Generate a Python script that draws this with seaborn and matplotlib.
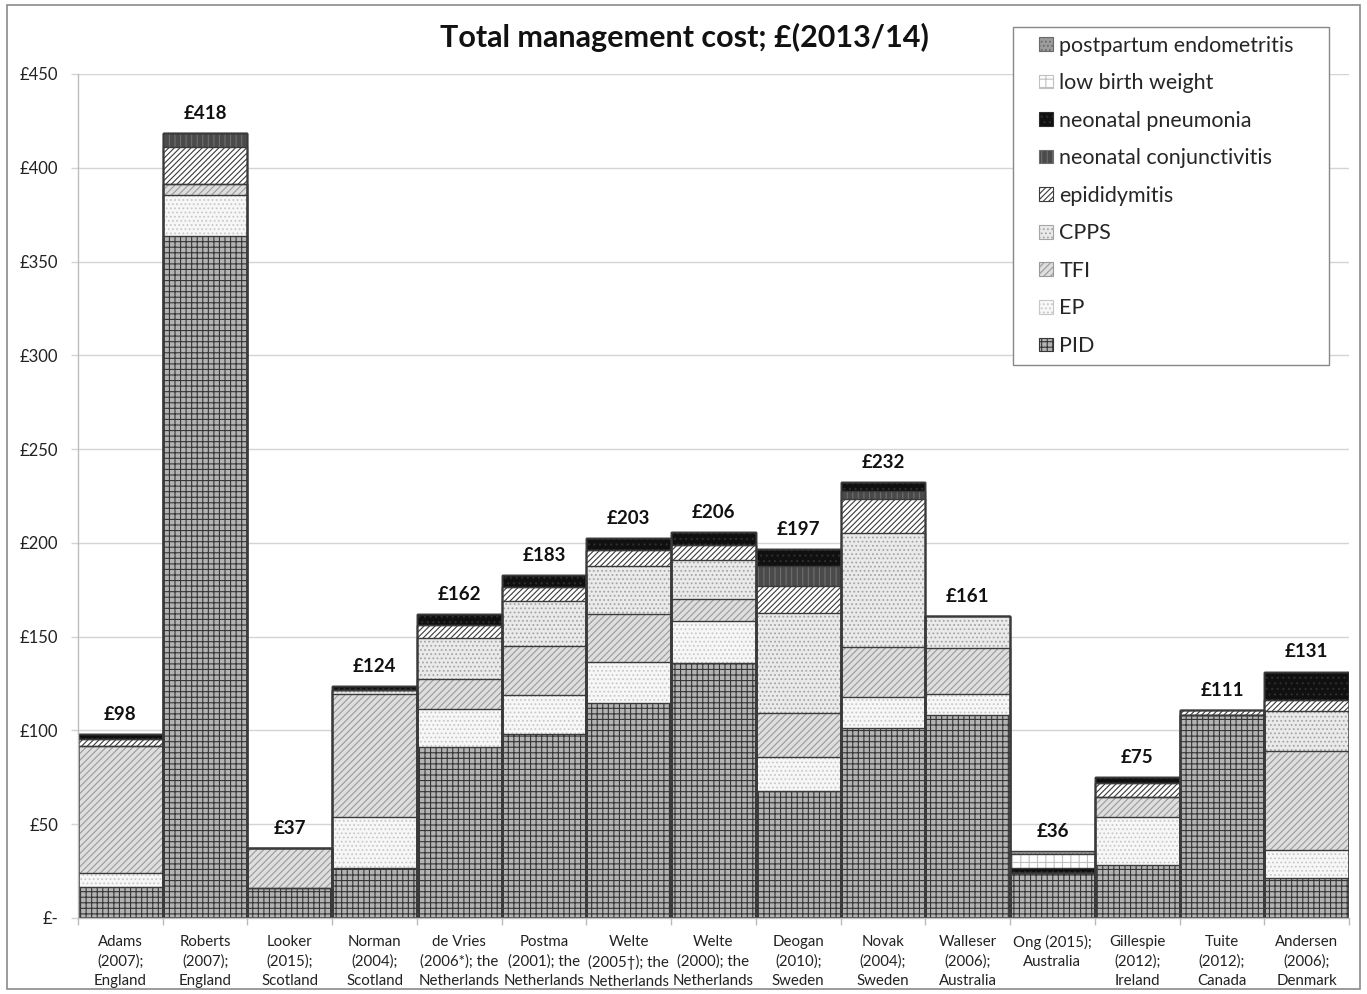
import numpy as np
import pandas as pd
import matplotlib
matplotlib.use("Agg")
import matplotlib.pyplot as plt
from matplotlib.patches import Patch, Rectangle
from matplotlib.legend_handler import HandlerPatch
import seaborn as sns

# Studies (x categories)
studies = [
    "Adams\n(2007);\nEngland", "Roberts\n(2007);\nEngland", "Looker\n(2015);\nScotland",
    "Norman\n(2004);\nScotland", "de Vries\n(2006*); the\nNetherlands",
    "Postma\n(2001); the\nNetherlands", "Welte\n(2005\u2020); the\nNetherlands",
    "Welte\n(2000); the\nNetherlands", "Deogan\n(2010);\nSweden", "Novak\n(2004);\nSweden",
    "Walleser\n(2006);\nAustralia", "Ong (2015);\nAustralia", "Gillespie\n(2012);\nIreland",
    "Tuite\n(2012);\nCanada", "Andersen\n(2006);\nDenmark",
]

# Cost components per study, £(2013/14), stacked bottom to top
pid          = [16.5, 363.6, 15.8, 26.8, 91.3, 98.1, 114.8, 136.1, 67.7, 101.1, 108.2, 23.8, 28.3, 108.2, 21.1]
ep           = [7.6, 21.9, 0.0, 27.2, 20.0, 20.8, 21.9, 22.2, 18.1, 16.5, 11.2, 0.0, 25.7, 0.0, 15.2]
tfi          = [67.6, 5.7, 21.3, 65.4, 16.0, 26.1, 25.2, 11.6, 23.3, 27.1, 24.4, 0.0, 10.3, 0.0, 52.7]
cpps         = [0.0, 0.0, 0.0, 2.2, 22.2, 24.0, 25.8, 21.0, 53.7, 60.4, 17.2, 0.0, 0.0, 0.0, 21.5]
epididymitis = [3.6, 20.0, 0.0, 0.0, 6.7, 7.6, 8.5, 8.0, 14.4, 18.3, 0.0, 0.0, 7.8, 2.7, 5.7]
neo_conj     = [0.0, 7.1, 0.0, 0.0, 0.0, 0.0, 0.0, 0.0, 10.5, 4.4, 0.0, 0.0, 0.0, 0.0, 0.0]
neo_pneu     = [2.6, 0.0, 0.0, 2.1, 5.7, 6.3, 6.5, 6.8, 8.9, 4.5, 0.0, 2.6, 3.2, 0.0, 15.1]
lbw          = [0.0, 0.0, 0.0, 0.0, 0.0, 0.0, 0.0, 0.0, 0.0, 0.0, 0.0, 7.7, 0.0, 0.0, 0.0]
pp_endo      = [0.0, 0.0, 0.0, 0.0, 0.0, 0.0, 0.0, 0.0, 0.0, 0.0, 0.0, 1.6, 0.0, 0.0, 0.0]

components = ["PID", "EP", "TFI", "CPPS", "epididymitis", "neonatal conjunctivitis",
              "neonatal pneumonia", "low birth weight", "postpartum endometritis"]
series = [pid, ep, tfi, cpps, epididymitis, neo_conj, neo_pneu, lbw, pp_endo]

y_ticks = [0, 50, 100, 150, 200, 250, 300, 350, 400, 450]
y_tick_labels = ["£-", "£50", "£100", "£150", "£200", "£250", "£300", "£350", "£400", "£450"]

# Fill styles: (face colour, hatch, hatch colour)
styles = {
    "PID": ("#b3b3b3", "+++", "#363636"),
    "EP": ("#f7f7f7", "....", "#c8c8c8"),
    "TFI": ("#dedede", "/////", "#9a9a9a"),
    "CPPS": ("#eaeaea", "....", "#a5a5a5"),
    "epididymitis": ("#ffffff", "//////", "#3a3a3a"),
    "neonatal conjunctivitis": ("#4a4a4a", "|||", "#6e6e6e"),
    "neonatal pneumonia": ("#101010", "...", "#2e2e2e"),
    "low birth weight": ("#ffffff", "++", "#c0c0c0"),
    "postpartum endometritis": ("#9c9c9c", "....", "#6a6a6a"),
}

sns.set_theme(style="white")
plt.rcParams["font.family"] = ["Lato", "DejaVu Sans"]
plt.rcParams["hatch.linewidth"] = 0.8

df = pd.DataFrame({"study": studies})
for name, vals in zip(components, series):
    df[name] = vals
cum = df[components].cumsum(axis=1)
df["total"] = cum[components[-1]]
cum_df = cum.assign(study=studies)

fig = plt.figure(figsize=(13.67, 9.94), dpi=100)
ax = fig.add_axes([78 / 1367, 1 - 918 / 994, (1349 - 78) / 1367, (918 - 74) / 994])

# Cumulative layers drawn from the top down so each lower layer covers the one above
for name in reversed(components):
    face, hatch, hcol = styles[name]
    n0 = len(ax.patches)
    sns.barplot(data=cum_df, x="study", y=name, order=studies,
                color=face, width=1.0, ax=ax, linewidth=0, saturation=1)
    for p in ax.patches[n0:]:
        p.set_facecolor(face)
        p.set_hatch(hatch)
        p.set_edgecolor(hcol)
        p.set_linewidth(0)

# Segment outlines
for name in components:
    sns.barplot(data=cum_df, x="study", y=name, order=studies,
                fill=False, color="#3a3a3a", width=1.0, ax=ax, linewidth=1.0)

# Value labels from totals
for i, t in enumerate(df["total"]):
    ax.text(i, t + 6, f"£{t:.0f}", ha="center", va="bottom", fontsize=13.5,
            fontweight="bold", color="#111111")

ax.set_xlim(-0.5, len(studies) - 0.5)
ax.set_ylim(0, 450)
ax.set_yticks(y_ticks)
ax.set_yticklabels(y_tick_labels, fontsize=12, color="#222222")
ax.yaxis.grid(True, color="#d4d4d4", linewidth=1)
ax.set_axisbelow(True)
ax.set_xlabel("")
ax.set_ylabel("")
ax.set_xticks(range(len(studies)))
ax.set_xticklabels(studies, fontsize=10.8, color="#222222", linespacing=1.5)
ax.set_xticks(np.arange(-0.5, len(studies), 1.0), minor=True)
ax.tick_params(axis="x", which="major", length=0, pad=12)
ax.tick_params(axis="x", which="minor", length=5, color="#bbbbbb", width=1, direction="out", bottom=True)
ax.tick_params(axis="y", length=5, color="#d4d4d4", width=1, pad=9, left=True)
for side in ["top", "right"]:
    ax.spines[side].set_visible(False)
for side in ["left", "bottom"]:
    ax.spines[side].set_color("#bdbdbd")
    ax.spines[side].set_linewidth(1)

fig.text(684 / 1367, 1 - 37 / 994, "Total management cost; £(2013/14)", ha="center",
         va="center", fontsize=22, fontweight="bold", color="#111111")


def square_handle(legend, orig_handle, xdescent, ydescent, width, height, fontsize):
    # small square key placed at the right end of the handle box
    return Rectangle((width - height - xdescent, -ydescent), height, height)


handles = []
for name in reversed(components):
    face, hatch, hcol = styles[name]
    handles.append(Patch(facecolor=face, hatch=hatch, edgecolor=hcol, label=name))
leg = fig.legend(handles=handles, loc="upper left", mode="expand",
                 bbox_to_anchor=(1013 / 1367, 1 - 363 / 994, 316 / 1367, 336 / 994),
                 fontsize=15.5,
                 frameon=True, fancybox=False, edgecolor="#888888", framealpha=1,
                 handlelength=1.45, handleheight=0.6, handletextpad=0.3,
                 labelspacing=0.815, borderpad=0.4, borderaxespad=0,
                 handler_map={Patch: HandlerPatch(patch_func=square_handle)})
leg.get_frame().set_linewidth(1)
for h in leg.legend_handles:
    h.set_linewidth(0.8)

# Chart border
fig.add_artist(Rectangle((7 / 1367, 1 - 989 / 994), (1360 - 7) / 1367, (989 - 5) / 994,
                         transform=fig.transFigure, fill=False, edgecolor="#8a8a8a",
                         linewidth=1.2))

fig.savefig("out.png", dpi=100, facecolor="white")
